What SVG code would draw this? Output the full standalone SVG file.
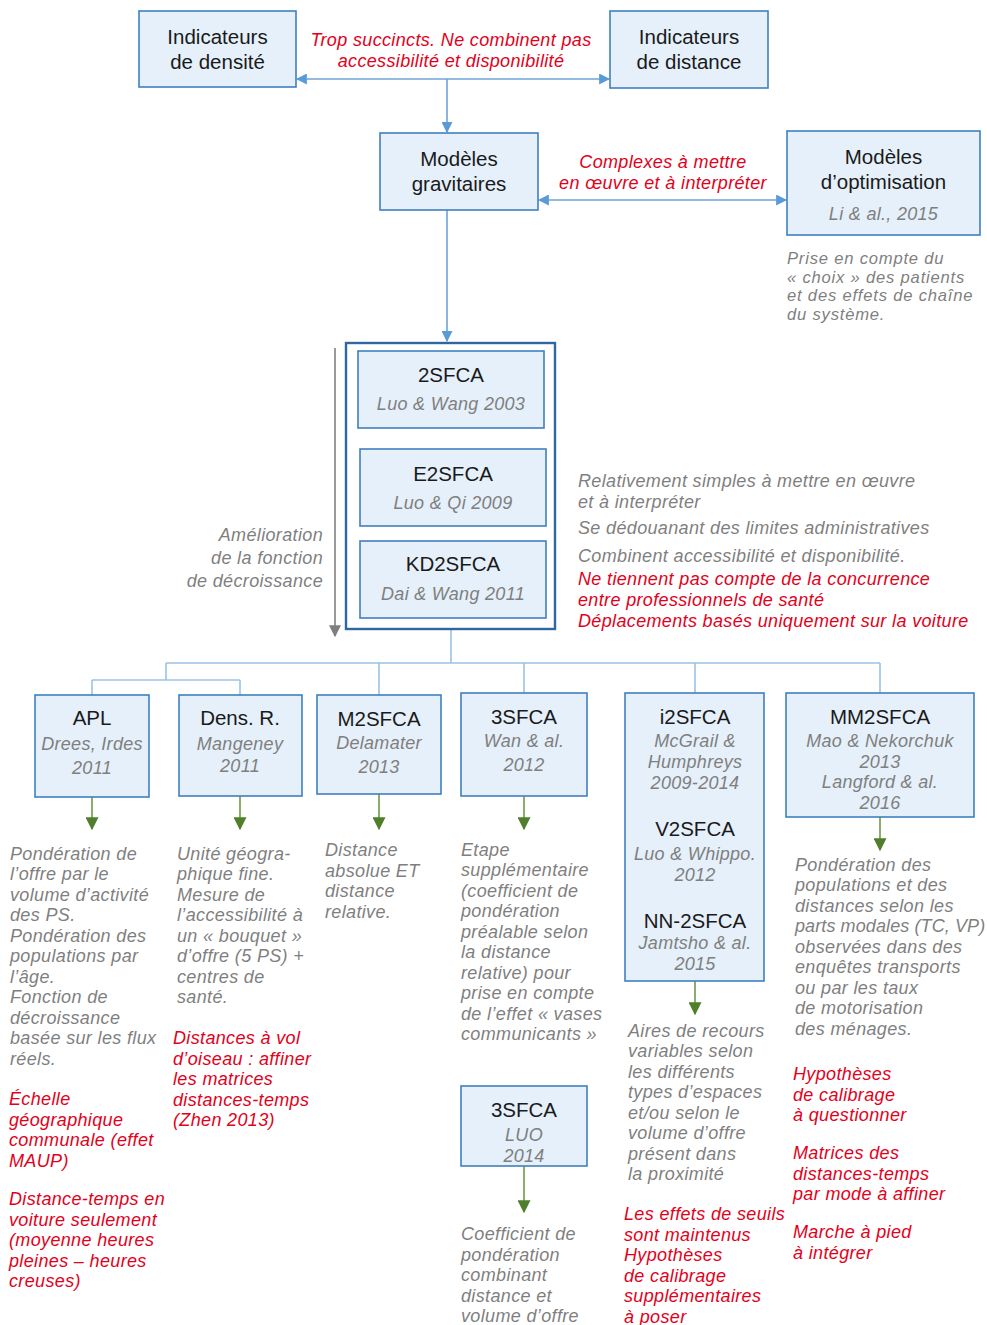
<svg xmlns="http://www.w3.org/2000/svg" width="987" height="1325" viewBox="0 0 987 1325">
<style>
text{font-family:"Liberation Sans",Arial,sans-serif}
.box{fill:#e5f0fa;stroke:#3f80bf;stroke-width:1.6}
.big{fill:#fff;stroke:#2f67a3;stroke-width:2.4}
.t{font-size:20.5px;fill:#1a1a1a;text-anchor:middle}
.s{font-size:18px;letter-spacing:0.3px;fill:#7f7f7f;font-style:italic;text-anchor:middle}
.g{font-size:18px;letter-spacing:0.35px;fill:#7f7f7f;font-style:italic}
.o{font-size:16.6px;letter-spacing:0.8px;fill:#7f7f7f;font-style:italic}
.r{font-size:18px;letter-spacing:0.35px;fill:#e3001b;font-style:italic}
.rc{font-size:18px;letter-spacing:0.35px;fill:#e3001b;font-style:italic;text-anchor:middle}
.con{fill:none;stroke:#6fa3d6;stroke-width:1.6}
.lt{fill:none;stroke:#9cc2e6;stroke-width:1.6}
.gr{fill:none;stroke:#6b9a4a;stroke-width:1.6}
.gy{fill:none;stroke:#808080;stroke-width:1.6}
</style>
<defs>
<marker id="ab" viewBox="0 0 10 10" refX="9" refY="5" markerWidth="11" markerHeight="11" orient="auto-start-reverse" markerUnits="userSpaceOnUse">
<path d="M0,0 L10,5 L0,10 z" fill="#5b9bd5"/></marker>
<marker id="ag" viewBox="0 0 10 10" refX="9" refY="5" markerWidth="13" markerHeight="13" orient="auto" markerUnits="userSpaceOnUse">
<path d="M0,0 L10,5 L0,10 z" fill="#4f7f2a"/></marker>
<marker id="ay" viewBox="0 0 10 10" refX="9" refY="5" markerWidth="12" markerHeight="12" orient="auto" markerUnits="userSpaceOnUse">
<path d="M0,0 L10,5 L0,10 z" fill="#7f7f7f"/></marker>
</defs>

<g id="connectors">
<path class="con" d="M297,79 H609" marker-start="url(#ab)" marker-end="url(#ab)"/>
<path class="con" d="M447,79 V132" marker-end="url(#ab)"/>
<path class="con" d="M539,200 H786" marker-start="url(#ab)" marker-end="url(#ab)"/>
<path class="con" d="M447,210 V341" marker-end="url(#ab)"/>
<path class="gy" d="M335,348 V636" marker-end="url(#ay)"/>
<path class="lt" d="M451,630 V663 M166,663 H880 M166,663 V680 M92,680 H240 M92,680 V695 M240,680 V695 M379,663 V695 M524,663 V693 M695,663 V693 M880,663 V693"/>
<path class="gr" d="M92,797 V829" marker-end="url(#ag)"/>
<path class="gr" d="M240,796 V829" marker-end="url(#ag)"/>
<path class="gr" d="M379,794 V829" marker-end="url(#ag)"/>
<path class="gr" d="M524,796 V829" marker-end="url(#ag)"/>
<path class="gr" d="M695,981 V1014" marker-end="url(#ag)"/>
<path class="gr" d="M880,817 V850" marker-end="url(#ag)"/>
<path class="gr" d="M524,1166 V1212" marker-end="url(#ag)"/>
</g>

<g id="n-densite">
<rect class="box" x="139" y="11" width="157" height="76"/>
<text class="t" x="217.5" y="44">Indicateurs</text>
<text class="t" x="217.5" y="69">de densité</text>
</g>
<g id="n-distance">
<rect class="box" x="610" y="11" width="158" height="77"/>
<text class="t" x="689" y="44">Indicateurs</text>
<text class="t" x="689" y="69">de distance</text>
</g>
<g id="lbl-top">
<text class="rc" x="451" y="46">Trop succincts. Ne combinent pas</text>
<text class="rc" x="451" y="67">accessibilité et disponibilité</text>
</g>
<g id="n-gravitaires">
<rect class="box" x="380" y="133" width="158" height="77"/>
<text class="t" x="459" y="166">Modèles</text>
<text class="t" x="459" y="191">gravitaires</text>
</g>
<g id="lbl-complexes">
<text class="rc" x="663" y="168">Complexes à mettre</text>
<text class="rc" x="663" y="189">en œuvre et à interpréter</text>
</g>
<g id="n-optimisation">
<rect class="box" x="787" y="131" width="193" height="104"/>
<text class="t" x="883.5" y="164">Modèles</text>
<text class="t" x="883.5" y="189">d’optimisation</text>
<text class="s" x="883.5" y="220">Li &amp; al., 2015</text>
</g>
<g id="txt-optimisation">
<text class="o" x="787" y="264">Prise en compte du</text>
<text class="o" x="787" y="282.7">« choix » des patients</text>
<text class="o" x="787" y="301.4">et des effets de chaîne</text>
<text class="o" x="787" y="320.1">du système.</text>
</g>

<g id="n-groupe">
<rect class="big" x="346" y="343" width="209" height="286"/>
</g>
<g id="n-2sfca">
<rect class="box" x="358" y="351" width="186" height="77"/>
<text class="t" x="451" y="382">2SFCA</text>
<text class="s" x="451" y="410">Luo &amp; Wang 2003</text>
</g>
<g id="n-e2sfca">
<rect class="box" x="360" y="449" width="186" height="77"/>
<text class="t" x="453" y="481">E2SFCA</text>
<text class="s" x="453" y="509">Luo &amp; Qi 2009</text>
</g>
<g id="n-kd2sfca">
<rect class="box" x="360" y="541" width="186" height="77"/>
<text class="t" x="453" y="571">KD2SFCA</text>
<text class="s" x="453" y="600">Dai &amp; Wang 2011</text>
</g>
<g id="lbl-amelioration">
<text class="g" x="323" y="541" text-anchor="end">Amélioration</text>
<text class="g" x="323" y="564" text-anchor="end">de la fonction</text>
<text class="g" x="323" y="587" text-anchor="end">de décroissance</text>
</g>
<g id="txt-groupe">
<text class="g" x="578" y="487">Relativement simples à mettre en œuvre</text>
<text class="g" x="578" y="508">et à interpréter</text>
<text class="g" x="578" y="534">Se dédouanant des limites administratives</text>
<text class="g" x="578" y="562">Combinent accessibilité et disponibilité.</text>
<text class="r" x="578" y="585">Ne tiennent pas compte de la concurrence</text>
<text class="r" x="578" y="606">entre professionnels de santé</text>
<text class="r" x="578" y="626.5">Déplacements basés uniquement sur la voiture</text>
</g>

<g id="n-apl">
<rect class="box" x="35" y="695" width="114" height="102"/>
<text class="t" x="92" y="725">APL</text>
<text class="s" x="92" y="750">Drees, Irdes</text>
<text class="s" x="92" y="774">2011</text>
</g>
<g id="txt-apl">
<text class="g" x="10" y="859.5">Pondération de</text>
<text class="g" x="10" y="880">l’offre par le</text>
<text class="g" x="10" y="900.5">volume d’activité</text>
<text class="g" x="10" y="921">des PS.</text>
<text class="g" x="10" y="941.5">Pondération des</text>
<text class="g" x="10" y="962">populations par</text>
<text class="g" x="10" y="982.5">l’âge.</text>
<text class="g" x="10" y="1003">Fonction de</text>
<text class="g" x="10" y="1023.5">décroissance</text>
<text class="g" x="10" y="1044">basée sur les flux</text>
<text class="g" x="10" y="1064.5">réels.</text>
<text class="r" x="9" y="1105">Échelle</text>
<text class="r" x="9" y="1125.5">géographique</text>
<text class="r" x="9" y="1146">communale (effet</text>
<text class="r" x="9" y="1166.5">MAUP)</text>
<text class="r" x="9" y="1205">Distance-temps en</text>
<text class="r" x="9" y="1225.5">voiture seulement</text>
<text class="r" x="9" y="1246">(moyenne heures</text>
<text class="r" x="9" y="1266.5">pleines – heures</text>
<text class="r" x="9" y="1287">creuses)</text>
</g>

<g id="n-densr">
<rect class="box" x="179" y="695" width="123" height="101"/>
<text class="t" x="240" y="725">Dens. R.</text>
<text class="s" x="240" y="750">Mangeney</text>
<text class="s" x="240" y="772">2011</text>
</g>
<g id="txt-densr">
<text class="g" x="177" y="859.5">Unité géogra-</text>
<text class="g" x="177" y="880">phique fine.</text>
<text class="g" x="177" y="900.5">Mesure de</text>
<text class="g" x="177" y="921">l’accessibilité à</text>
<text class="g" x="177" y="941.5">un « bouquet »</text>
<text class="g" x="177" y="962">d’offre (5 PS) +</text>
<text class="g" x="177" y="982.5">centres de</text>
<text class="g" x="177" y="1003">santé.</text>
<text class="r" x="173" y="1044">Distances à vol</text>
<text class="r" x="173" y="1064.5">d’oiseau : affiner</text>
<text class="r" x="173" y="1085">les matrices</text>
<text class="r" x="173" y="1105.5">distances-temps</text>
<text class="r" x="173" y="1126">(Zhen 2013)</text>
</g>

<g id="n-m2sfca">
<rect class="box" x="317" y="695" width="124" height="99"/>
<text class="t" x="379" y="726">M2SFCA</text>
<text class="s" x="379" y="749">Delamater</text>
<text class="s" x="379" y="773">2013</text>
</g>
<g id="txt-m2sfca">
<text class="g" x="325" y="856">Distance</text>
<text class="g" x="325" y="876.5">absolue ET</text>
<text class="g" x="325" y="897">distance</text>
<text class="g" x="325" y="917.5">relative.</text>
</g>

<g id="n-3sfca">
<rect class="box" x="461" y="693" width="126" height="103"/>
<text class="t" x="524" y="724">3SFCA</text>
<text class="s" x="524" y="747">Wan &amp; al.</text>
<text class="s" x="524" y="771">2012</text>
</g>
<g id="txt-3sfca">
<text class="g" x="461" y="855.5">Etape</text>
<text class="g" x="461" y="876">supplémentaire</text>
<text class="g" x="461" y="896.5">(coefficient de</text>
<text class="g" x="461" y="917">pondération</text>
<text class="g" x="461" y="937.5">préalable selon</text>
<text class="g" x="461" y="958">la distance</text>
<text class="g" x="461" y="978.5">relative) pour</text>
<text class="g" x="461" y="999">prise en compte</text>
<text class="g" x="461" y="1019.5">de l’effet « vases</text>
<text class="g" x="461" y="1040">communicants »</text>
</g>

<g id="n-3sfca-luo">
<rect class="box" x="461" y="1086" width="126" height="80"/>
<text class="t" x="524" y="1117">3SFCA</text>
<text class="s" x="524" y="1141">LUO</text>
<text class="s" x="524" y="1162">2014</text>
</g>
<g id="txt-3sfca-luo">
<text class="g" x="461" y="1240">Coefficient de</text>
<text class="g" x="461" y="1260.5">pondération</text>
<text class="g" x="461" y="1281">combinant</text>
<text class="g" x="461" y="1301.5">distance et</text>
<text class="g" x="461" y="1322">volume d’offre</text>
</g>

<g id="n-i2sfca">
<rect class="box" x="625" y="693" width="139" height="288"/>
<text class="t" x="695" y="724">i2SFCA</text>
<text class="s" x="695" y="747">McGrail &amp;</text>
<text class="s" x="695" y="768">Humphreys</text>
<text class="s" x="695" y="789">2009-2014</text>
<text class="t" x="695" y="836">V2SFCA</text>
<text class="s" x="695" y="860">Luo &amp; Whippo.</text>
<text class="s" x="695" y="881">2012</text>
<text class="t" x="695" y="928">NN-2SFCA</text>
<text class="s" x="695" y="949">Jamtsho &amp; al.</text>
<text class="s" x="695" y="970">2015</text>
</g>
<g id="txt-i2sfca">
<text class="g" x="628" y="1036.5">Aires de recours</text>
<text class="g" x="628" y="1057">variables selon</text>
<text class="g" x="628" y="1077.5">les différents</text>
<text class="g" x="628" y="1098">types d’espaces</text>
<text class="g" x="628" y="1118.5">et/ou selon le</text>
<text class="g" x="628" y="1139">volume d’offre</text>
<text class="g" x="628" y="1159.5">présent dans</text>
<text class="g" x="628" y="1180">la proximité</text>
<text class="r" x="624" y="1220">Les effets de seuils</text>
<text class="r" x="624" y="1240.5">sont maintenus</text>
<text class="r" x="624" y="1261">Hypothèses</text>
<text class="r" x="624" y="1281.5">de calibrage</text>
<text class="r" x="624" y="1302">supplémentaires</text>
<text class="r" x="624" y="1322.5">à poser</text>
</g>

<g id="n-mm2sfca">
<rect class="box" x="786" y="693" width="188" height="124"/>
<text class="t" x="880" y="724">MM2SFCA</text>
<text class="s" x="880" y="747">Mao &amp; Nekorchuk</text>
<text class="s" x="880" y="767.5">2013</text>
<text class="s" x="880" y="788">Langford &amp; al.</text>
<text class="s" x="880" y="808.5">2016</text>
</g>
<g id="txt-mm2sfca">
<text class="g" x="795" y="870.5">Pondération des</text>
<text class="g" x="795" y="891">populations et des</text>
<text class="g" x="795" y="911.5">distances selon les</text>
<text class="g" x="795" y="932" style="letter-spacing:0.1px">parts modales (TC, VP)</text>
<text class="g" x="795" y="952.5">observées dans des</text>
<text class="g" x="795" y="973">enquêtes transports</text>
<text class="g" x="795" y="993.5">ou par les taux</text>
<text class="g" x="795" y="1014">de motorisation</text>
<text class="g" x="795" y="1034.5">des ménages.</text>
<text class="r" x="793" y="1080">Hypothèses</text>
<text class="r" x="793" y="1100.5">de calibrage</text>
<text class="r" x="793" y="1121">à questionner</text>
<text class="r" x="793" y="1159">Matrices des</text>
<text class="r" x="793" y="1179.5">distances-temps</text>
<text class="r" x="793" y="1200">par mode à affiner</text>
<text class="r" x="793" y="1238">Marche à pied</text>
<text class="r" x="793" y="1258.5">à intégrer</text>
</g>
</svg>
